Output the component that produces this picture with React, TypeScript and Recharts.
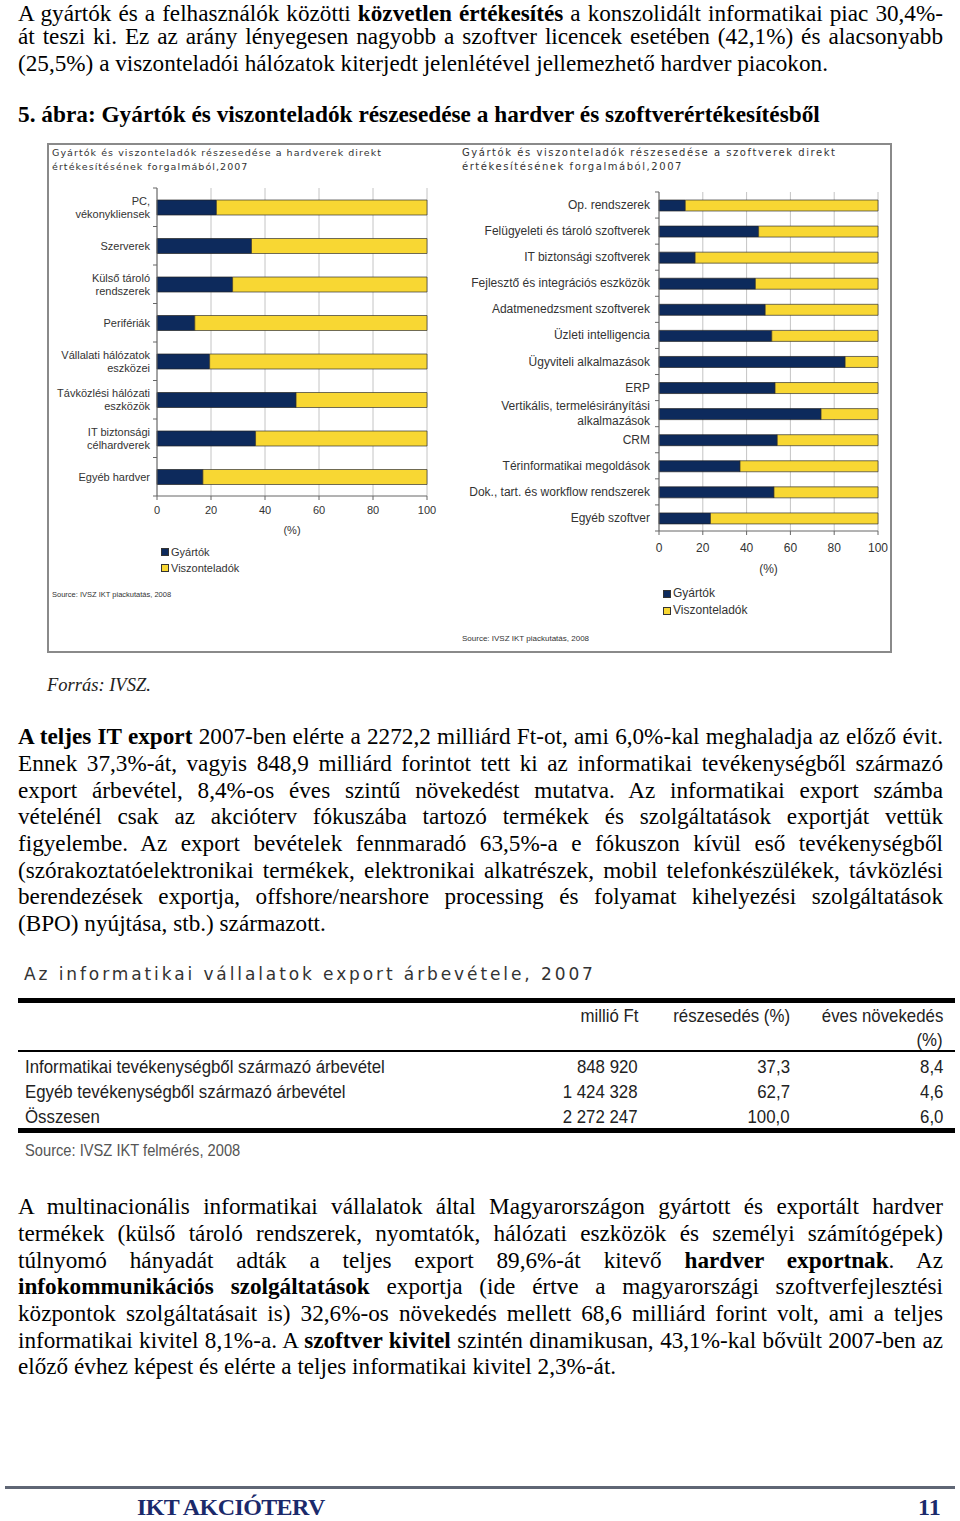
import React from 'react';
import { BarChart, Bar, XAxis, YAxis, CartesianGrid } from 'recharts';

// Hardver: gyártók / viszonteladók részesedése (%)
const hwCategories = [
  'PC,\nvékonykliensek',
  'Szerverek',
  'Külső tároló\nrendszerek',
  'Perifériák',
  'Vállalati hálózatok\neszközei',
  'Távközlési hálózati\neszközök',
  'IT biztonsági\ncélhardverek',
  'Egyéb hardver',
];
const hwGyartok = [22, 35, 28, 14, 19.5, 51.5, 36.5, 17];
const hwViszonteladok = [78, 65, 72, 86, 80.5, 48.5, 63.5, 83];

// Szoftver: gyártók / viszonteladók részesedése (%)
const swCategories = [
  'Op. rendszerek',
  'Felügyeleti és tároló szoftverek',
  'IT biztonsági szoftverek',
  'Fejlesztő és integrációs eszközök',
  'Adatmenedzsment szoftverek',
  'Üzleti intelligencia',
  'Ügyviteli alkalmazások',
  'ERP',
  'Vertikális, termelésirányítási\nalkalmazások',
  'CRM',
  'Térinformatikai megoldások',
  'Dok., tart. és workflow rendszerek',
  'Egyéb szoftver',
];
const swGyartok = [12, 45.5, 16.5, 44, 48.5, 51.5, 85, 53, 74, 54, 37, 52.5, 23.5];
const swViszonteladok = [88, 54.5, 83.5, 56, 51.5, 48.5, 15, 47, 26, 46, 63, 47.5, 76.5];

const pctTicks = [0, 20, 40, 60, 80, 100];

// Export table
const tableRows = [
  'Informatikai tevékenységből származó árbevétel',
  'Egyéb tevékenységből származó árbevétel',
  'Összesen',
];
const tableMillioFt = ['848 920', '1 424 328', '2 272 247'];
const tableReszesedes = ['37,3', '62,7', '100,0'];
const tableNovekedes = ['8,4', '4,6', '6,0'];

const NAVY = '#0d2a5c';
const YELLOW = '#f8d733';
const SERIF = '"Liberation Serif", "Times New Roman", serif';
const SANS = '"Liberation Sans", Arial, sans-serif';

const hwData = hwCategories.map((name, i) => ({ name, g: hwGyartok[i], v: hwViszonteladok[i] }));
const swData = swCategories.map((name, i) => ({ name, g: swGyartok[i], v: swViszonteladok[i] }));

const makeTick = (band: number, count: number, fontSize: number, lh: number, gap: number) => (props: any) => {
  const { x, y, payload, index } = props;
  const lines = String(payload.value).split('\n');
  const y0 = y - ((lines.length - 1) * lh) / 2;
  const ax = x + 8;
  const tx = ax - gap;
  return (
    <g>
      <line x1={ax - 4} x2={ax} y1={y - band / 2} y2={y - band / 2} stroke="#666" />
      {index === count - 1 && <line x1={ax - 4} x2={ax} y1={y + band / 2} y2={y + band / 2} stroke="#666" />}
      <text x={tx} y={y0} textAnchor="end" dominantBaseline="central" fontSize={fontSize} fill="#333" fontFamily={SANS}>
        {lines.map((l, i) => (
          <tspan key={i} x={tx} y={y0 + i * lh}>{l}</tspan>
        ))}
      </text>
    </g>
  );
};

type Seg = [string, boolean?];

const BODY = 23.2;

const TextLine = ({ base, segs, last, size = BODY }: { base: number; segs: Seg[]; last?: boolean; size?: number }) => (
  <div
    style={{
      position: 'absolute', left: 18, top: base - (size * 0.891 - (size * 1.107 - 20) / 2), width: 925,
      fontFamily: SERIF, fontSize: size, lineHeight: '20px', color: '#000', whiteSpace: 'nowrap',
      textAlign: last ? 'left' : 'justify', textAlignLast: last ? 'left' : 'justify',
    } as React.CSSProperties}
  >
    {segs.map(([t, b], i) => (b ? <b key={i}>{t}</b> : <span key={i}>{t}</span>))}
  </div>
);

const para1: Seg[][] = [
  [['A gyártók és a felhasználók közötti '], ['közvetlen értékesítés', true], [' a konszolidált informatikai piac 30,4%-']],
  [['át teszi ki. Ez az arány lényegesen nagyobb a szoftver licencek esetében (42,1%) és alacsonyabb']],
  [['(25,5%) a viszonteladói hálózatok kiterjedt jelenlétével jellemezhető hardver piacokon.']],
];
const para1Base = [20.8, 44, 70.5];
const para2: Seg[][] = [
  [['A teljes IT export', true], [' 2007-ben elérte a 2272,2 milliárd Ft-ot, ami 6,0%-kal meghaladja az előző évit.']],
  [['Ennek 37,3%-át, vagyis 848,9 milliárd forintot tett ki az informatikai tevékenységből származó']],
  [['export árbevétel, 8,4%-os éves szintű növekedést mutatva. Az informatikai export számba']],
  [['vételénél csak az akcióterv fókuszába tartozó termékek és szolgáltatások exportját vettük']],
  [['figyelembe. Az export bevételek fennmaradó 63,5%-a e fókuszon kívül eső tevékenységből']],
  [['(szórakoztatóelektronikai termékek, elektronikai alkatrészek, mobil telefonkészülékek, távközlési']],
  [['berendezések exportja, offshore/nearshore processing és folyamat kihelyezési szolgáltatások']],
  [['(BPO) nyújtása, stb.) származott.']],
];
const para3: Seg[][] = [
  [['A multinacionális informatikai vállalatok által Magyarországon gyártott és exportált hardver']],
  [['termékek (külső tároló rendszerek, nyomtatók, hálózati eszközök és személyi számítógépek)']],
  [['túlnyomó hányadát adták a teljes export 89,6%-át kitevő '], ['hardver exportnak', true], ['. Az']],
  [['infokommunikációs szolgáltatások', true], [' exportja (ide értve a magyarországi szoftverfejlesztési']],
  [['központok szolgáltatásait is) 32,6%-os növekedés mellett 68,6 milliárd forint volt, ami a teljes']],
  [['informatikai kivitel 8,1%-a. A '], ['szoftver kivitel', true], [' szintén dinamikusan, 43,1%-kal bővült 2007-ben az']],
  [['előző évhez képest és elérte a teljes informatikai kivitel 2,3%-át.']],
];

const abs = (s: React.CSSProperties): React.CSSProperties => ({ position: 'absolute', ...s });

const Legend = ({ left, top, size }: { left: number; top: number; size: number }) => (
  <div style={abs({ left, top, fontFamily: SANS, fontSize: size, color: '#333', lineHeight: `${size + 5}px` })}>
    {[['Gyártók', NAVY], ['Viszonteladók', YELLOW]].map(([t, c]) => (
      <div key={t} style={{ display: 'flex', alignItems: 'center' }}>
        <span style={{ width: 6, height: 6, background: c, border: '1px solid #333', marginRight: 2, display: 'inline-block' }} />
        {t}
      </div>
    ))}
  </div>
);

const chartTitle = (left: number, size: number, spacing: number, kind: string) => (
  <div style={abs({ left, top: 146, fontFamily: '"DejaVu Sans", sans-serif', fontSize: size, letterSpacing: spacing, color: '#333', lineHeight: '14px', whiteSpace: 'nowrap' })}>
    <div>Gyártók és viszonteladók részesedése a {kind} direkt</div>
    <div>értékesítésének forgalmából,2007</div>
  </div>
);

const narrow = '"Liberation Sans Narrow", "Arial Narrow", "Liberation Sans", sans-serif';
const cell = (s: React.CSSProperties, anchorRight: boolean): React.CSSProperties => abs({
  fontFamily: narrow, fontSize: 19, color: '#222', whiteSpace: 'nowrap',
  transform: 'scaleX(0.885)', transformOrigin: anchorRight ? 'right center' : 'left center', ...s,
});

export default function App() {
  return (
    <div style={abs({ left: 0, top: 0, width: 960, height: 1521, background: '#fff', overflow: 'hidden' })}>
      {para1.map((segs, i) => (
        <TextLine key={i} base={para1Base[i]} segs={segs} last={i === para1.length - 1} />
      ))}
      <TextLine base={122} size={23.3} segs={[['5. ábra: Gyártók és viszonteladók részesedése a hardver és szoftverértékesítésből', true]]} last />

      {/* chart frame */}
      <div style={abs({ left: 47, top: 143, width: 841, height: 506, border: '2px solid #8a8a8a' })} />
      {chartTitle(52, 9.5, 1.05, 'hardverek')}
      {chartTitle(462, 10, 1.55, 'szoftverek')}

      <div style={abs({ left: 48, top: 175 })}>
        <BarChart width={392} height={365} data={hwData} layout="vertical" margin={{ top: 13, right: 13, left: 4, bottom: 0 }}>
          <CartesianGrid horizontal={false} stroke="#c4c4c4" />
          <XAxis
            type="number" domain={[0, 100]} ticks={pctTicks} interval={0} height={44}
            tick={{ fontSize: 11, fill: '#333', fontFamily: SANS }} stroke="#666" tickSize={4} tickMargin={6}
            label={{ value: '(%)', position: 'insideBottom', offset: 6, fontSize: 11, fill: '#333', fontFamily: SANS }}
          />
          <YAxis
            type="category" dataKey="name" width={105} stroke="#666" tickLine={false} interval={0}
            tick={makeTick(38.5, hwData.length, 11, 13, 7)}
          />
          <Bar dataKey="g" stackId="a" fill={NAVY} stroke="#222" strokeWidth={0.7} barSize={15} isAnimationActive={false} />
          <Bar dataKey="v" stackId="a" fill={YELLOW} stroke="#333" strokeWidth={0.7} barSize={15} isAnimationActive={false} />
        </BarChart>
      </div>
      <Legend left={161} top={544} size={11} />
      <div style={abs({ left: 52, top: 590, fontFamily: SANS, fontSize: 7.5, color: '#333' })}>Source: IVSZ IKT piackutatás, 2008</div>

      <div style={abs({ left: 455, top: 180 })}>
        <BarChart width={433} height={399} data={swData} layout="vertical" margin={{ top: 12, right: 10, left: 0, bottom: 0 }}>
          <CartesianGrid horizontal={false} stroke="#c4c4c4" />
          <XAxis
            type="number" domain={[0, 100]} ticks={pctTicks} interval={0} height={48}
            tick={{ fontSize: 12, fill: '#333', fontFamily: SANS }} stroke="#666" tickSize={4} tickMargin={8}
            label={{ value: '(%)', position: 'insideBottom', offset: 6, fontSize: 12, fill: '#333', fontFamily: SANS }}
          />
          <YAxis
            type="category" dataKey="name" width={204} stroke="#666" tickLine={false} interval={0}
            tick={makeTick(26.1, swData.length, 12, 15, 9)}
          />
          <Bar dataKey="g" stackId="a" fill={NAVY} stroke="#222" strokeWidth={0.7} barSize={11} isAnimationActive={false} />
          <Bar dataKey="v" stackId="a" fill={YELLOW} stroke="#333" strokeWidth={0.7} barSize={11} isAnimationActive={false} />
        </BarChart>
      </div>
      <Legend left={663} top={585} size={12} />
      <div style={abs({ left: 462, top: 634, fontFamily: SANS, fontSize: 8, color: '#333' })}>Source: IVSZ IKT piackutatás, 2008</div>

      <div style={abs({ left: 47, top: 675, fontFamily: SERIF, fontStyle: 'italic', fontSize: 18.5, color: '#222' })}>Forrás: IVSZ.</div>

      {para2.map((segs, i) => (
        <TextLine key={i} base={744 + i * 26.7} segs={segs} last={i === para2.length - 1} />
      ))}

      {/* export table */}
      <div style={abs({ left: 24, top: 964, fontFamily: '"DejaVu Sans", sans-serif', fontSize: 17, letterSpacing: 2.9, color: '#333', whiteSpace: 'nowrap' })}>
        Az informatikai vállalatok export árbevétele, 2007
      </div>
      <div style={abs({ left: 18, top: 998, width: 937, height: 5, background: '#000' })} />
      <div style={abs({ left: 18, top: 1050, width: 937, height: 2, background: '#000' })} />
      <div style={abs({ left: 18, top: 1128, width: 937, height: 5, background: '#000' })} />
      {[['millió Ft', 638], ['részesedés (%)', 790], ['éves növekedés', 943]].map(([t, r]) => (
        <div key={t as string} style={cell({ right: 960 - (r as number), top: 1005 }, true)}>{t}</div>
      ))}
      <div style={cell({ right: 960 - 943, top: 1029 }, true)}>(%)</div>
      {tableRows.map((row, i) => (
        <React.Fragment key={row}>
          <div style={cell({ left: 25, top: 1056 + i * 25 }, false)}>{row}</div>
          <div style={cell({ right: 960 - 638, top: 1056 + i * 25 }, true)}>{tableMillioFt[i]}</div>
          <div style={cell({ right: 960 - 790, top: 1056 + i * 25 }, true)}>{tableReszesedes[i]}</div>
          <div style={cell({ right: 960 - 943, top: 1056 + i * 25 }, true)}>{tableNovekedes[i]}</div>
        </React.Fragment>
      ))}
      <div style={cell({ left: 25, top: 1141, fontSize: 16.6, color: '#555' }, false)}>Source: IVSZ IKT felmérés, 2008</div>

      {para3.map((segs, i) => (
        <TextLine key={i} base={1214 + i * 26.7} segs={segs} last={i === para3.length - 1} />
      ))}

      {/* footer */}
      <div style={abs({ left: 5, top: 1486, width: 950, height: 3, background: '#5f6675' })} />
      <div style={abs({ left: 137, top: 1494, fontFamily: SERIF, fontWeight: 'bold', fontSize: 24, color: '#1b2a6b', letterSpacing: -0.6 })}>IKT AKCIÓTERV</div>
      <div style={abs({ left: 918, top: 1494, fontFamily: SERIF, fontWeight: 'bold', fontSize: 24, color: '#1b2a6b' })}>11</div>
    </div>
  );
}
